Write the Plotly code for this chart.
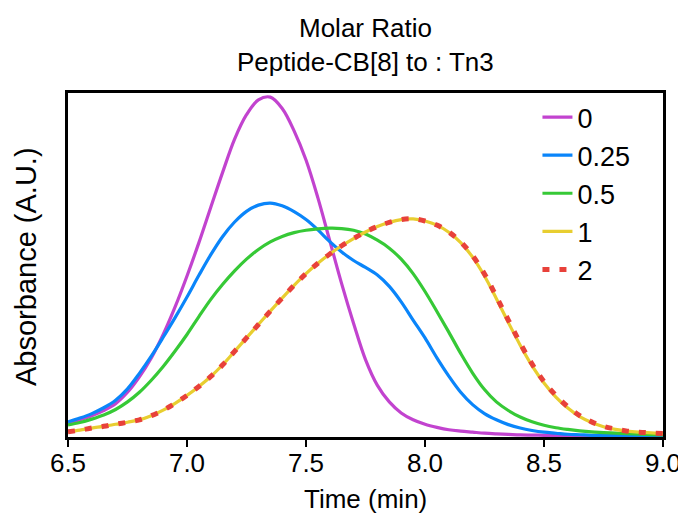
import plotly.graph_objects as go

times = [6.50, 6.55, 6.60, 6.65, 6.70, 6.75, 6.80, 6.85, 6.90, 6.95,
         7.00, 7.05, 7.10, 7.15, 7.20, 7.25, 7.30, 7.35, 7.40, 7.45,
         7.50, 7.55, 7.60, 7.65, 7.70, 7.75, 7.80, 7.85, 7.90, 7.95,
         8.00, 8.05, 8.10, 8.15, 8.20, 8.25, 8.30, 8.35, 8.40, 8.45,
         8.50, 8.55, 8.60, 8.65, 8.70, 8.75, 8.80, 8.85, 8.90, 8.95, 9.00]

ratio_0 = [0.041, 0.050, 0.062, 0.077, 0.097, 0.130, 0.175, 0.230, 0.298, 0.378,
           0.468, 0.565, 0.668, 0.770, 0.866, 0.937, 0.980, 0.988, 0.955, 0.890,
           0.805, 0.695, 0.570, 0.445, 0.330, 0.225, 0.150, 0.102, 0.070, 0.050,
           0.037, 0.028, 0.021, 0.017, 0.014, 0.011, 0.009, 0.0075, 0.006, 0.0055,
           0.005, 0.0045, 0.004, 0.0035, 0.003, 0.0025, 0.002, 0.0015, 0.001, 0.001, 0.001]
ratio_025 = [0.044, 0.055, 0.068, 0.085, 0.107, 0.140, 0.185, 0.235, 0.290, 0.347,
             0.407, 0.470, 0.530, 0.583, 0.625, 0.656, 0.674, 0.680, 0.672, 0.655,
             0.632, 0.602, 0.568, 0.538, 0.513, 0.493, 0.471, 0.438, 0.393, 0.340,
             0.288, 0.230, 0.177, 0.130, 0.094, 0.068, 0.050, 0.036, 0.026, 0.019,
             0.014, 0.011, 0.008, 0.0065, 0.005, 0.0045, 0.004, 0.0035, 0.003, 0.0025, 0.002]
ratio_05 = [0.035, 0.042, 0.052, 0.064, 0.080, 0.102, 0.130, 0.165, 0.205, 0.250,
            0.298, 0.350, 0.400, 0.444, 0.483, 0.517, 0.545, 0.567, 0.583, 0.594,
            0.601, 0.605, 0.607, 0.606, 0.601, 0.590, 0.572, 0.549, 0.517, 0.475,
            0.423, 0.365, 0.305, 0.243, 0.186, 0.138, 0.102, 0.077, 0.058, 0.044,
            0.034, 0.027, 0.022, 0.018, 0.015, 0.013, 0.011, 0.0095, 0.008, 0.007, 0.006]
ratio_1 = [0.015, 0.020, 0.026, 0.031, 0.037, 0.043, 0.050, 0.062, 0.078, 0.098,
           0.121, 0.147, 0.176, 0.210, 0.249, 0.288, 0.327, 0.366, 0.404, 0.441,
           0.475, 0.505, 0.532, 0.556, 0.577, 0.596, 0.612, 0.624, 0.632, 0.634,
           0.628, 0.616, 0.595, 0.565, 0.523, 0.468, 0.402, 0.333, 0.267, 0.207,
           0.157, 0.116, 0.084, 0.059, 0.042, 0.030, 0.022, 0.017, 0.014, 0.012, 0.010]
ratio_2 = [0.015, 0.020, 0.026, 0.031, 0.037, 0.043, 0.050, 0.062, 0.078, 0.098,
           0.121, 0.147, 0.176, 0.210, 0.249, 0.288, 0.327, 0.366, 0.404, 0.441,
           0.475, 0.505, 0.532, 0.556, 0.577, 0.596, 0.612, 0.624, 0.632, 0.634,
           0.628, 0.616, 0.596, 0.567, 0.527, 0.474, 0.408, 0.340, 0.273, 0.212,
           0.161, 0.121, 0.088, 0.062, 0.044, 0.031, 0.023, 0.017, 0.014, 0.012, 0.010]

series_names = ["0", "0.25", "0.5", "1", "2"]
series_values = [ratio_0, ratio_025, ratio_05, ratio_1, ratio_2]
tick_vals = [6.5, 7.0, 7.5, 8.0, 8.5, 9.0]
tick_text = ["6.5", "7.0", "7.5", "8.0", "8.5", "9.0"]

colors = ["#C243CF", "#0A85FA", "#36C936", "#E8CE30", "#E8413A"]
dashes = ["solid", "solid", "solid", "solid", "7px,10px"]
widths = [3.2, 3.2, 3.2, 3.2, 5]

FONT = "Liberation Sans, Arial, sans-serif"

fig = go.Figure()
for name, vals, c, d, w in zip(series_names, series_values, colors, dashes, widths):
    fig.add_trace(go.Scatter(
        x=times, y=vals, mode="lines", name=name,
        line=dict(color=c, width=w, dash=d, shape="spline", smoothing=1.0),
    ))

# the page adds an 8px body margin, so the figure is sized/placed to compensate
OFF = 8
W, H = 686 - OFF, 516 - OFF
L, T = 68 - OFF, 93 - OFF
R = W - (663 - OFF)
B = H - (437 - OFF)
plot_w = W - L - R
plot_h = H - T - B


def py_paper(page_y):
    return (H - B - (page_y - OFF)) / plot_h


def px_paper(page_x):
    return ((page_x - OFF) - L) / plot_w


fig.update_layout(
    width=W, height=H,
    margin=dict(l=L, r=R, t=T, b=B, autoexpand=False),
    paper_bgcolor="white", plot_bgcolor="white",
    font=dict(family=FONT, size=26, color="black"),
    showlegend=True,
    legend=dict(x=0.789, y=1.0, xanchor="left", yanchor="top",
                bgcolor="rgba(0,0,0,0)",
                font=dict(family=FONT, size=27, color="black"),
                tracegroupgap=0),
    xaxis=dict(range=[6.5, 9.0], tickvals=tick_vals, ticktext=tick_text,
               tickfont=dict(family=FONT, size=26),
               showline=True, linecolor="black", linewidth=3, mirror=True,
               ticks="outside", ticklen=7, tickwidth=2, tickcolor="black",
               ticklabelstandoff=-6,
               showgrid=False, zeroline=False, automargin=False),
    yaxis=dict(range=[0, 1.0], showticklabels=False, ticks="",
               showline=True, linecolor="black", linewidth=3, mirror=True,
               showgrid=False, zeroline=False, automargin=False),
    annotations=[
        dict(text="Molar Ratio", x=0.5, y=py_paper(28), xref="paper", yref="paper",
             xanchor="center", yanchor="middle",
             showarrow=False, font=dict(family=FONT, size=26)),
        dict(text="Peptide-CB[8] to : Tn3", x=0.5, y=py_paper(62), xref="paper", yref="paper",
             xanchor="center", yanchor="middle",
             showarrow=False, font=dict(family=FONT, size=26)),
        dict(text="Time (min)", x=0.5, y=py_paper(499), xref="paper", yref="paper",
             xanchor="center", yanchor="middle",
             showarrow=False, font=dict(family=FONT, size=26)),
        dict(text="Absorbance (A.U.)", x=px_paper(26), y=py_paper(267),
             xref="paper", yref="paper", xanchor="center", yanchor="middle",
             textangle=-90, showarrow=False, font=dict(family=FONT, size=29)),
    ],
)

fig.write_html("out.html")
